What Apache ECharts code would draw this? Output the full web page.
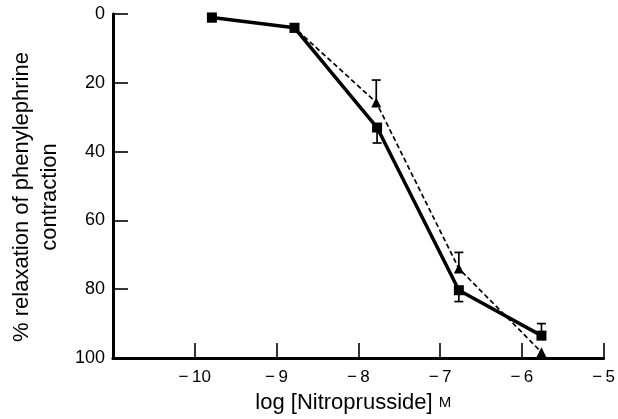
<!DOCTYPE html>
<html><head><meta charset="utf-8">
<script src="https://cdn.jsdelivr.net/npm/echarts@6/dist/echarts.min.js"></script>
<style>html,body{margin:0;padding:0;background:#fff}#c{width:618px;height:419px}</style>
</head><body><div id="c"></div>
<script>
// Data
const squareX = [-9.79, -8.78, -7.77, -6.77, -5.76];
const squareY = [1, 4, 33, 80.3, 93.5];
const squareErr = [null, null, 4.5, 3.3, -3.5];   // signed: bar drawn from value to value+err
const triangleX = [-9.79, -8.78, -7.78, -6.77, -5.76];
const triangleY = [1, 4, 25.7, 74, 98.3];
const triangleErr = [null, null, -6.5, -4.7, null];
const xTicks = [-11, -10, -9, -8, -7, -6, -5];
const yTicks = [0, 20, 40, 60, 80, 100];

const font = '"Liberation Sans", Arial, Helvetica, sans-serif';
const pairs = (xs, ys) => xs.map((x, i) => [x, ys[i]]);
const errData = (xs, ys, es) => xs.map((x, i) => es[i] == null ? null : [x, ys[i], ys[i] + es[i]]).filter(d => d);

function errRender(params, api) {
  const p0 = api.coord([api.value(0), api.value(1)]);
  const p1 = api.coord([api.value(0), api.value(2)]);
  const w = 4.5;
  const st = { stroke: '#000', lineWidth: 1.7 };
  return { type: 'group', children: [
    { type: 'line', shape: { x1: p0[0], y1: p0[1], x2: p1[0], y2: p1[1] }, style: st },
    { type: 'line', shape: { x1: p1[0] - w, y1: p1[1], x2: p1[0] + w, y2: p1[1] }, style: st }
  ]};
}

const chart = echarts.init(document.getElementById('c'), null, { renderer: 'canvas' });
chart.setOption({
  animation: false,
  backgroundColor: '#fff',
  grid: { left: 107, right: 8, top: 14, bottom: 57 },
  xAxis: {
    type: 'value', position: 'bottom', min: xTicks[0], max: xTicks[xTicks.length - 1], interval: 1,
    axisLine: { onZero: false, lineStyle: { color: '#000', width: 3 } },
    axisTick: { inside: true, length: 15, lineStyle: { color: '#000', width: 1.6 } },
    splitLine: { show: false },
    axisLabel: { color: '#000', fontFamily: font, fontSize: 17, margin: 11,
      formatter: v => v === xTicks[0] ? '' : (v < 0 ? '\u2212\u2009' + Math.abs(v) : String(v)) },
    name: '{a|log [Nitroprusside] }{b|M}', nameLocation: 'middle', nameGap: 34,
    nameTextStyle: { padding: [0, 10, 0, 0], rich: {
      a: { fontFamily: font, fontSize: 22, color: '#000' },
      b: { fontFamily: font, fontSize: 15, color: '#000' } } }
  },
  yAxis: {
    type: 'value', inverse: true, min: yTicks[0], max: yTicks[yTicks.length - 1], interval: 20,
    axisLine: { show: true, onZero: false, lineStyle: { color: '#000', width: 3 } },
    axisTick: { show: true, inside: true, length: 15, lineStyle: { color: '#000', width: 1.6 } },
    splitLine: { show: false },
    axisLabel: { color: '#000', fontFamily: font, fontSize: 18, margin: 8 },
    name: '% relaxation of phenylephrine\ncontraction', nameLocation: 'middle', nameGap: 46,
    nameRotate: 90,
    nameTextStyle: { fontFamily: font, fontSize: 22, color: '#000', lineHeight: 28, align: 'center', padding: [0, 22, 0, 0] }
  },
  series: [
    { type: 'line', data: pairs(triangleX, triangleY), symbol: 'triangle', symbolSize: 10,
      lineStyle: { color: '#000', width: 1.7, type: [5, 3] }, itemStyle: { color: '#000' }, z: 2 },
    { type: 'line', data: pairs(squareX, squareY), symbol: 'rect', symbolSize: 10,
      lineStyle: { color: '#000', width: 3.5 }, itemStyle: { color: '#000' }, z: 3 },
    { type: 'custom', renderItem: errRender, data: errData(squareX, squareY, squareErr), z: 4 },
    { type: 'custom', renderItem: errRender, data: errData(triangleX, triangleY, triangleErr), z: 4 }
  ]
});
</script></body></html>
